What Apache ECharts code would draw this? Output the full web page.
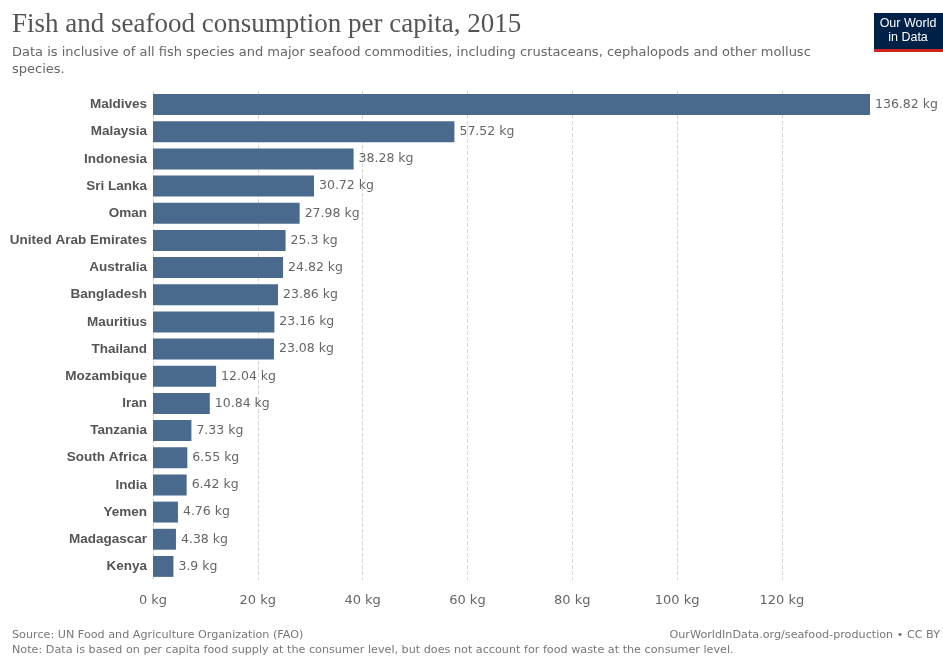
<!DOCTYPE html>
<html>
<head>
<meta charset="utf-8">
<script src="https://cdn.jsdelivr.net/npm/echarts@6/dist/echarts.min.js"></script>
<style>
  html, body { margin: 0; padding: 0; background: #fff; }
  #chart { width: 943px; height: 661px; }
</style>
</head>
<body>
<div id="chart"></div>
<script>
// Fish and seafood supply per person, 2015 (kg per year)
const countries = [
  'Maldives', 'Malaysia', 'Indonesia', 'Sri Lanka', 'Oman',
  'United Arab Emirates', 'Australia', 'Bangladesh', 'Mauritius', 'Thailand',
  'Mozambique', 'Iran', 'Tanzania', 'South Africa', 'India',
  'Yemen', 'Madagascar', 'Kenya'
];
const consumptionKg = [
  136.82, 57.52, 38.28, 30.72, 27.98,
  25.3, 24.82, 23.86, 23.16, 23.08,
  12.04, 10.84, 7.33, 6.55, 6.42,
  4.76, 4.38, 3.9
];
const gridTicks = [0, 20, 40, 60, 80, 100, 120];

const titleText = 'Fish and seafood consumption per capita, 2015';
const subtitleText = 'Data is inclusive of all fish species and major seafood commodities, including crustaceans, cephalopods and other mollusc\nspecies.';
const sourceText = 'Source: UN Food and Agriculture Organization (FAO)';
const noteText = 'Note: Data is based on per capita food supply at the consumer level, but does not account for food waste at the consumer level.';
const linkText = 'OurWorldInData.org/seafood-production • CC BY';

const sans = '"DejaVu Sans", "Liberation Sans", Arial, sans-serif';
const sansBold = '"Liberation Sans", Arial, sans-serif';

const chart = echarts.init(document.getElementById('chart'));
chart.setOption({
  animation: false,
  backgroundColor: '#ffffff',
  title: {
    text: titleText,
    subtext: subtitleText,
    left: 7,
    top: 6,
    itemGap: 6,
    textStyle: {
      fontFamily: '"Liberation Serif", "DejaVu Serif", serif',
      fontWeight: 'normal',
      fontSize: 27,
      color: '#555555'
    },
    subtextStyle: {
      fontFamily: sans,
      fontSize: 13,
      lineHeight: 17,
      color: '#666666'
    }
  },
  grid: {
    left: 153,
    right: 943 - 870,
    top: 91,
    bottom: 661 - 580,
    containLabel: false
  },
  xAxis: {
    type: 'value',
    min: 0,
    max: 136.82,
    interval: 20,
    axisLine: { show: false },
    axisTick: { show: false },
    splitLine: { show: false },
    axisLabel: {
      showMaxLabel: false,
      margin: 14,
      fontFamily: sans,
      fontSize: 13,
      color: '#666666',
      formatter: v => (gridTicks.indexOf(v) >= 0 ? v + ' kg' : '')
    }
  },
  yAxis: {
    type: 'category',
    data: countries,
    inverse: true,
    axisLine: { show: false },
    axisTick: { show: false },
    axisLabel: {
      margin: 6,
      fontFamily: sansBold,
      fontSize: 13.5,
      fontWeight: 'bold',
      color: '#555555'
    }
  },
  series: [{
    type: 'bar',
    data: consumptionKg,
    barCategoryGap: '23%',
    itemStyle: { color: '#4a6a8d' },
    label: {
      show: true,
      position: 'right',
      distance: 5,
      fontFamily: sans,
      fontSize: 12.5,
      color: '#666666',
      formatter: p => p.value + ' kg'
    },
    markLine: {
      silent: true,
      symbol: 'none',
      label: { show: false },
      lineStyle: { color: '#d6d6d6', type: 'dashed', width: 1 },
      data: gridTicks.map(t => ({ xAxis: t })),
      z: 0
    },
    z: 3
  }],
  graphic: [
    {
      type: 'group',
      left: 874,
      top: 13,
      children: [
        { type: 'rect', shape: { x: 0, y: 0, width: 69, height: 36 }, style: { fill: '#002147' } },
        { type: 'rect', shape: { x: 0, y: 36, width: 69, height: 3 }, style: { fill: '#ce261e' } },
        {
          type: 'text', x: 34, y: 18,
          style: {
            text: 'Our World\nin Data', align: 'center', verticalAlign: 'middle',
            fill: '#ffffff', font: '12.5px "Liberation Sans Narrow", "Liberation Sans", sans-serif', lineHeight: 14
          }
        }
      ]
    },
    {
      type: 'text', left: 12, top: 630,
      style: { text: sourceText, fill: '#777777', font: '11.2px ' + sans }
    },
    {
      type: 'text', left: 12, top: 645,
      style: { text: noteText, fill: '#777777', font: '11.2px ' + sans }
    },
    {
      type: 'text', right: 3, top: 630,
      style: { text: linkText, fill: '#777777', font: '11.2px ' + sans }
    }
  ]
});
</script>
</body>
</html>
